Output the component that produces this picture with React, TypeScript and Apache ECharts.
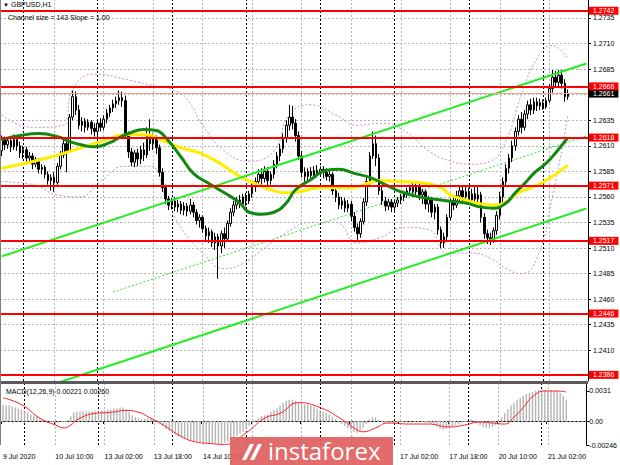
import React, { useEffect, useRef } from 'react';
import * as echarts from 'echarts';

// [open, close, low, high] — GBPUSD H1, 9 Jul 17:00 .. 21 Jul 08:00
const candles: number[][] = [
  [1.2605, 1.2616, 1.2600, 1.2620], [1.2616, 1.2611, 1.2606, 1.2619], [1.2611, 1.2615, 1.2607, 1.2618], [1.2615, 1.2609, 1.2604, 1.2617],
  [1.2609, 1.2616, 1.2606, 1.2621], [1.2616, 1.2610, 1.2605, 1.2619], [1.2610, 1.2603, 1.2598, 1.2614], [1.2603, 1.2606, 1.2597, 1.2610],
  [1.2606, 1.2598, 1.2594, 1.2609], [1.2598, 1.2600, 1.2593, 1.2604], [1.2600, 1.2592, 1.2587, 1.2603], [1.2592, 1.2596, 1.2589, 1.2599],
  [1.2596, 1.2587, 1.2583, 1.2598], [1.2587, 1.2589, 1.2582, 1.2592], [1.2589, 1.2582, 1.2578, 1.2591], [1.2582, 1.2576, 1.2572, 1.2585],
  [1.2576, 1.2579, 1.2566, 1.2582], [1.2579, 1.2574, 1.2565, 1.2584], [1.2574, 1.2590, 1.2572, 1.2593], [1.2590, 1.2601, 1.2587, 1.2605],
  [1.2601, 1.2612, 1.2598, 1.2616], [1.2612, 1.2605, 1.2584, 1.2614], [1.2605, 1.2638, 1.2603, 1.2641], [1.2638, 1.2658, 1.2635, 1.2664],
  [1.2658, 1.2645, 1.2640, 1.2663], [1.2645, 1.2630, 1.2626, 1.2650], [1.2630, 1.2634, 1.2624, 1.2638], [1.2634, 1.2628, 1.2623, 1.2637],
  [1.2628, 1.2633, 1.2625, 1.2636], [1.2633, 1.2627, 1.2621, 1.2635], [1.2627, 1.2624, 1.2619, 1.2632], [1.2624, 1.2632, 1.2620, 1.2635],
  [1.2632, 1.2628, 1.2624, 1.2637], [1.2628, 1.2636, 1.2625, 1.2640], [1.2636, 1.2642, 1.2632, 1.2646], [1.2642, 1.2647, 1.2638, 1.2650],
  [1.2647, 1.2651, 1.2643, 1.2655], [1.2651, 1.2654, 1.2647, 1.2658], [1.2654, 1.2657, 1.2650, 1.2664], [1.2657, 1.2654, 1.2648, 1.2663],
  [1.2654, 1.2620, 1.2617, 1.2659], [1.2620, 1.2604, 1.2598, 1.2624], [1.2604, 1.2594, 1.2590, 1.2608], [1.2594, 1.2603, 1.2589, 1.2606],
  [1.2603, 1.2597, 1.2590, 1.2607], [1.2597, 1.2606, 1.2592, 1.2610], [1.2606, 1.2601, 1.2595, 1.2613], [1.2601, 1.2619, 1.2598, 1.2628],
  [1.2619, 1.2612, 1.2605, 1.2636], [1.2612, 1.2617, 1.2606, 1.2622], [1.2617, 1.2608, 1.2602, 1.2620], [1.2608, 1.2584, 1.2580, 1.2611],
  [1.2584, 1.2569, 1.2565, 1.2588], [1.2569, 1.2558, 1.2553, 1.2572], [1.2558, 1.2552, 1.2547, 1.2561], [1.2552, 1.2556, 1.2548, 1.2559],
  [1.2556, 1.2550, 1.2546, 1.2560], [1.2550, 1.2553, 1.2545, 1.2557], [1.2553, 1.2547, 1.2543, 1.2556], [1.2547, 1.2551, 1.2542, 1.2555],
  [1.2551, 1.2546, 1.2541, 1.2554], [1.2546, 1.2552, 1.2543, 1.2558], [1.2552, 1.2545, 1.2540, 1.2555], [1.2545, 1.2537, 1.2533, 1.2548],
  [1.2537, 1.2540, 1.2530, 1.2543], [1.2540, 1.2529, 1.2525, 1.2542], [1.2529, 1.2522, 1.2517, 1.2532], [1.2522, 1.2526, 1.2515, 1.2530],
  [1.2526, 1.2515, 1.2511, 1.2528], [1.2515, 1.2521, 1.2508, 1.2525], [1.2521, 1.2512, 1.2480, 1.2524], [1.2512, 1.2524, 1.2505, 1.2527],
  [1.2524, 1.2519, 1.2510, 1.2530], [1.2519, 1.2534, 1.2516, 1.2537], [1.2534, 1.2545, 1.2531, 1.2549], [1.2545, 1.2552, 1.2541, 1.2556],
  [1.2552, 1.2557, 1.2548, 1.2560], [1.2557, 1.2553, 1.2549, 1.2562], [1.2553, 1.2560, 1.2550, 1.2563], [1.2560, 1.2556, 1.2551, 1.2564],
  [1.2556, 1.2563, 1.2553, 1.2566], [1.2563, 1.2570, 1.2559, 1.2574], [1.2570, 1.2575, 1.2565, 1.2579], [1.2575, 1.2582, 1.2571, 1.2587],
  [1.2582, 1.2578, 1.2572, 1.2588], [1.2578, 1.2585, 1.2574, 1.2590], [1.2585, 1.2576, 1.2570, 1.2589], [1.2576, 1.2582, 1.2572, 1.2585],
  [1.2582, 1.2592, 1.2578, 1.2596], [1.2592, 1.2600, 1.2588, 1.2604], [1.2600, 1.2607, 1.2595, 1.2612], [1.2607, 1.2618, 1.2603, 1.2622],
  [1.2618, 1.2630, 1.2613, 1.2635], [1.2630, 1.2638, 1.2625, 1.2650], [1.2638, 1.2632, 1.2626, 1.2649], [1.2632, 1.2620, 1.2614, 1.2636],
  [1.2620, 1.2600, 1.2596, 1.2624], [1.2600, 1.2584, 1.2579, 1.2605], [1.2584, 1.2580, 1.2575, 1.2589], [1.2580, 1.2585, 1.2576, 1.2588],
  [1.2585, 1.2581, 1.2577, 1.2589], [1.2581, 1.2586, 1.2578, 1.2590], [1.2586, 1.2583, 1.2579, 1.2591], [1.2583, 1.2587, 1.2580, 1.2590],
  [1.2587, 1.2584, 1.2578, 1.2590], [1.2584, 1.2580, 1.2576, 1.2588], [1.2580, 1.2582, 1.2575, 1.2586], [1.2582, 1.2566, 1.2562, 1.2584],
  [1.2566, 1.2560, 1.2555, 1.2569], [1.2560, 1.2552, 1.2548, 1.2564], [1.2552, 1.2556, 1.2548, 1.2560], [1.2556, 1.2549, 1.2545, 1.2559],
  [1.2549, 1.2553, 1.2545, 1.2557], [1.2553, 1.2541, 1.2536, 1.2556], [1.2541, 1.2530, 1.2526, 1.2545], [1.2530, 1.2524, 1.2518, 1.2534],
  [1.2524, 1.2536, 1.2520, 1.2539], [1.2536, 1.2555, 1.2533, 1.2559], [1.2555, 1.2575, 1.2551, 1.2579], [1.2575, 1.2600, 1.2572, 1.2604],
  [1.2600, 1.2612, 1.2597, 1.2624], [1.2612, 1.2598, 1.2590, 1.2620], [1.2598, 1.2566, 1.2562, 1.2602], [1.2566, 1.2556, 1.2552, 1.2570],
  [1.2556, 1.2551, 1.2546, 1.2560], [1.2551, 1.2555, 1.2547, 1.2558], [1.2555, 1.2550, 1.2545, 1.2558], [1.2550, 1.2554, 1.2546, 1.2557],
  [1.2554, 1.2557, 1.2550, 1.2560], [1.2557, 1.2560, 1.2553, 1.2563], [1.2560, 1.2563, 1.2556, 1.2566], [1.2563, 1.2566, 1.2559, 1.2569],
  [1.2566, 1.2569, 1.2562, 1.2572], [1.2569, 1.2565, 1.2560, 1.2574], [1.2565, 1.2570, 1.2562, 1.2573], [1.2570, 1.2562, 1.2557, 1.2573],
  [1.2562, 1.2565, 1.2553, 1.2568], [1.2565, 1.2553, 1.2548, 1.2567], [1.2553, 1.2558, 1.2545, 1.2561], [1.2558, 1.2545, 1.2540, 1.2560],
  [1.2545, 1.2550, 1.2538, 1.2553], [1.2550, 1.2528, 1.2523, 1.2553], [1.2528, 1.2515, 1.2510, 1.2531], [1.2515, 1.2521, 1.2510, 1.2525],
  [1.2521, 1.2540, 1.2518, 1.2543], [1.2540, 1.2556, 1.2537, 1.2559], [1.2556, 1.2552, 1.2547, 1.2561], [1.2552, 1.2561, 1.2549, 1.2566],
  [1.2561, 1.2566, 1.2556, 1.2570], [1.2566, 1.2560, 1.2555, 1.2571], [1.2560, 1.2565, 1.2557, 1.2570], [1.2565, 1.2557, 1.2552, 1.2569],
  [1.2557, 1.2563, 1.2553, 1.2568], [1.2563, 1.2558, 1.2552, 1.2571], [1.2558, 1.2562, 1.2553, 1.2571], [1.2562, 1.2540, 1.2535, 1.2565],
  [1.2540, 1.2524, 1.2519, 1.2544], [1.2524, 1.2520, 1.2514, 1.2528], [1.2520, 1.2518, 1.2513, 1.2525], [1.2518, 1.2527, 1.2515, 1.2530],
  [1.2527, 1.2542, 1.2523, 1.2546], [1.2542, 1.2560, 1.2538, 1.2565], [1.2560, 1.2575, 1.2555, 1.2579], [1.2575, 1.2588, 1.2570, 1.2592],
  [1.2588, 1.2598, 1.2583, 1.2602], [1.2598, 1.2610, 1.2594, 1.2615], [1.2610, 1.2624, 1.2605, 1.2628], [1.2624, 1.2636, 1.2620, 1.2640],
  [1.2636, 1.2628, 1.2622, 1.2643], [1.2628, 1.2641, 1.2625, 1.2645], [1.2641, 1.2650, 1.2636, 1.2654], [1.2650, 1.2645, 1.2640, 1.2656],
  [1.2645, 1.2653, 1.2641, 1.2657], [1.2653, 1.2649, 1.2644, 1.2657], [1.2649, 1.2652, 1.2645, 1.2656], [1.2652, 1.2648, 1.2645, 1.2655],
  [1.2648, 1.2654, 1.2646, 1.2657], [1.2654, 1.2666, 1.2652, 1.2670], [1.2666, 1.2677, 1.2662, 1.2684], [1.2677, 1.2672, 1.2667, 1.2683],
  [1.2672, 1.2679, 1.2668, 1.2684], [1.2679, 1.2671, 1.2666, 1.2684], [1.2671, 1.2658, 1.2653, 1.2675], [1.2658, 1.2661, 1.2655, 1.2665],
];

// moving averages, read as [bar, price]
const maFast: number[][] = [
  [0, 1.2616], [6, 1.2620], [12, 1.2622], [19, 1.2618], [22, 1.2614], [27, 1.2610], [30, 1.2609], [35, 1.2613], [38, 1.2618],
  [41, 1.2622], [46, 1.2626], [50, 1.2625], [53, 1.2618], [58, 1.2599], [62, 1.2583], [67, 1.2573], [72, 1.2564], [77, 1.2554],
  [80, 1.2545], [84, 1.2543], [88, 1.2545], [92, 1.2554], [95, 1.2567], [100, 1.2577], [105, 1.2586], [109, 1.2587], [114, 1.2583],
  [119, 1.2579], [124, 1.2572], [129, 1.2565], [135, 1.2560], [142, 1.2557], [150, 1.2554], [155, 1.2550], [159, 1.2549],
  [163, 1.2554], [166, 1.2564], [169, 1.2573], [172, 1.2583], [176, 1.2593], [179, 1.2603], [183, 1.2618],
];
const maSlow: number[][] = [
  [0, 1.2588], [16, 1.2599], [32, 1.2614], [41, 1.2621], [46, 1.2621], [53, 1.2614], [58, 1.2608], [64, 1.2603], [71, 1.2592],
  [77, 1.2580], [82, 1.2573], [87, 1.2567], [92, 1.2564], [96, 1.2565], [103, 1.2569], [113, 1.2569], [119, 1.2574], [122, 1.2576],
  [129, 1.2575], [135, 1.2574], [142, 1.2569], [145, 1.2562], [150, 1.2557], [155, 1.2553], [159, 1.2552], [163, 1.2555],
  [167, 1.2564], [172, 1.2570], [177, 1.2578], [183, 1.2591],
];
const bandUpper: number[][] = [
  [0, 1.2640], [10, 1.2628], [20, 1.2630], [23, 1.2665], [30, 1.2680], [40, 1.2675], [50, 1.2668], [55, 1.2665], [60, 1.2655],
  [65, 1.2630], [72, 1.2605], [80, 1.2595], [88, 1.2605], [93, 1.2640], [100, 1.2650], [108, 1.2640], [115, 1.2630], [122, 1.2632],
  [130, 1.2625], [138, 1.2605], [145, 1.2595], [152, 1.2592], [158, 1.2595], [163, 1.2615], [168, 1.2660], [173, 1.2695],
  [178, 1.2708], [183, 1.2695],
];
const bandLower: number[][] = [
  [0, 1.2575], [10, 1.2572], [18, 1.2562], [25, 1.2560], [32, 1.2575], [40, 1.2590], [48, 1.2590], [53, 1.2560], [58, 1.2530],
  [65, 1.2505], [72, 1.2490], [78, 1.2495], [85, 1.2510], [92, 1.2525], [100, 1.2535], [108, 1.2535], [115, 1.2515], [122, 1.2520],
  [130, 1.2530], [138, 1.2528], [144, 1.2505], [152, 1.2505], [158, 1.2500], [163, 1.2490], [168, 1.2485], [173, 1.2500],
  [178, 1.2560], [183, 1.2640],
];

// regression channel, [bar, price] end points
const channelUpper: number[][] = [[0, 1.25018], [189, 1.26904]];
const channelLower: number[][] = [[0, 1.23602], [189, 1.25487]];
const channelMid: number[][] = [[36, 1.24669], [189, 1.26196]];

const macdMain: number[] = [
  0.0017, 0.0016, 0.0016, 0.0015, 0.0014, 0.0013, 0.0012, 0.0010, 0.0009, 0.0007,
  0.0006, 0.0005, 0.0003, 0.0002, 0.0001, 0.0000, -0.0001, -0.0002, -0.0002, -0.0001,
  -0.0001, 0.0001, 0.0005, 0.0009, 0.0010, 0.0010, 0.0010, 0.0010, 0.0010, 0.0010,
  0.0010, 0.0010, 0.0011, 0.0011, 0.0012, 0.0012, 0.0013, 0.0013, 0.0014, 0.0014,
  0.0012, 0.0009, 0.0006, 0.0004, 0.0003, 0.0002, 0.0002, 0.0003, 0.0003, 0.0002,
  0.0001, -0.0002, -0.0005, -0.0008, -0.0010, -0.0012, -0.0014, -0.0016, -0.0017, -0.0018,
  -0.0019, -0.0020, -0.0021, -0.0021, -0.0022, -0.0022, -0.0023, -0.0023, -0.0023, -0.0023,
  -0.0024, -0.0023, -0.0022, -0.0021, -0.0019, -0.0017, -0.0015, -0.0013, -0.0011, -0.0008,
  -0.0005, -0.0002, 0.0001, 0.0003, 0.0005, 0.0006, 0.0007, 0.0009, 0.0011, 0.0013,
  0.0016, 0.0019, 0.0021, 0.0022, 0.0022, 0.0021, 0.0019, 0.0018, 0.0017, 0.0017,
  0.0016, 0.0015, 0.0013, 0.0011, 0.0009, 0.0008, 0.0007, 0.0004, 0.0002, -0.0001,
  -0.0003, -0.0005, -0.0007, -0.0009, -0.0011, -0.0012, -0.0010, -0.0007, -0.0003, 0.0002,
  0.0004, 0.0004, 0.0001, -0.0001, -0.0002, -0.0002, -0.0002, -0.0002, -0.0002, -0.0001,
  -0.0001, -0.0001, 0.0000, 0.0000, -0.0001, -0.0001, -0.0001, -0.0002, -0.0002, -0.0003,
  -0.0004, -0.0006, -0.0008, -0.0009, -0.0008, -0.0006, -0.0005, -0.0004, -0.0003, -0.0002,
  -0.0001, 0.0001, 0.0002, 0.0001, -0.0002, -0.0004, -0.0006, -0.0007, -0.0007, -0.0006,
  -0.0004, 0.0000, 0.0004, 0.0008, 0.0012, 0.0016, 0.0019, 0.0022, 0.0024, 0.0026,
  0.0028, 0.0029, 0.0030, 0.0031, 0.0032, 0.0032, 0.0032, 0.0032, 0.0032, 0.0031,
  0.0031, 0.0029, 0.0026, 0.0022,
];
const macdSignal: number[][] = [
  [0, 0.0024], [6, 0.0017], [12, 0.0003], [17, -0.0004], [20, -0.0007], [22, -0.0004], [25, 0.0003], [30, 0.0008],
  [35, 0.0009], [40, 0.0011], [43, 0.0010], [48, 0.0003], [53, -0.0006], [58, -0.0016], [62, -0.0021], [67, -0.0023],
  [72, -0.0024], [79, -0.0012], [85, 0.0003], [90, 0.0008], [96, 0.0019], [103, 0.0014], [109, 0.0004], [114, -0.0007],
  [117, -0.0011], [121, -0.0007], [125, -0.0002], [132, -0.0003], [138, -0.0003], [145, -0.0006], [150, -0.0004],
  [155, -0.0001], [159, -0.0002], [163, -0.0003], [166, 0.0004], [169, 0.0014], [172, 0.0025], [176, 0.0031],
  [180, 0.0031], [183, 0.0030],
];

const priceTicks = [1.2410, 1.2435, 1.2460, 1.2485, 1.2510, 1.2535, 1.2560, 1.2585, 1.2610, 1.2635, 1.2660, 1.2685, 1.2710, 1.2735];
const hiddenPriceLabels = [1.2660];
const levels = [1.2742, 1.2668, 1.2618, 1.2571, 1.2517, 1.2446, 1.2386];
const bidPrice = 1.2661;
const macdTicks = [0.0031, 0, -0.00246];

const xTickBars = [0, 17, 33, 49, 65, 81, 97, 113, 129, 145, 161, 177];
const xTickLabels = ['9 Jul 2020', '10 Jul 10:00', '13 Jul 02:00', '13 Jul 18:00', '14 Jul 10:00', '', '', '',
  '17 Jul 02:00', '17 Jul 18:00', '20 Jul 10:00', '21 Jul 02:00'];
const daySeparatorBars = [7, 31, 55, 79, 103, 127, 151, 175];
const gridBars = [17, 33, 49, 65, 81, 97, 113, 129, 145, 161, 177];

const SLOTS = 190;
const FONT = '"Liberation Sans", Arial, sans-serif';

export default function App() {
  const ref = useRef<HTMLDivElement>(null);
  useEffect(() => {
    if (!ref.current) return;
    const chart = echarts.init(ref.current, undefined, { renderer: 'svg' });
    const cats = Array.from({ length: SLOTS }, (_, i) => String(i));
    const tickSet = new Set(xTickBars);
    const gridLineStyle = { color: '#b4b4b4', type: [2, 2] as any, width: 1 };
    const sepStyle = { color: '#000000', type: [2, 2] as any, width: 1 };
    const redLabel = (v: number, bg: string) => ({
      show: true, position: 'end', distance: 1, formatter: v.toFixed(4), color: '#ffffff',
      backgroundColor: bg, padding: [1, 4, 0, 4], fontSize: 7, fontFamily: FONT,
    });

    const option: any = {
      animation: false,
      backgroundColor: '#ffffff',
      textStyle: { fontFamily: FONT },
      grid: [
        { left: 0, top: 0, width: 588, height: 381 },
        { left: 0, top: 384, width: 588, height: 61 },
      ],
      xAxis: [
        {
          type: 'category', gridIndex: 0, data: cats, boundaryGap: true,
          axisLine: { show: false }, axisTick: { show: false }, axisLabel: { show: false }, splitLine: { show: false },
        },
        {
          type: 'category', gridIndex: 1, data: cats, boundaryGap: true,
          axisLine: { show: true, lineStyle: { color: '#000', width: 1 } },
          axisTick: { show: true, length: 3, interval: (i: number) => tickSet.has(i), lineStyle: { color: '#000' } },
          axisLabel: {
            show: true, interval: (i: number) => tickSet.has(i) && xTickLabels[xTickBars.indexOf(i)] !== '',
            align: 'left', margin: 8, fontSize: 7, color: '#000', fontFamily: FONT,
            formatter: (v: string) => { const k = xTickBars.indexOf(Number(v)); return k >= 0 ? xTickLabels[k] : ''; },
          },
          splitLine: { show: false },
        },
      ],
      yAxis: [
        {
          type: 'value', gridIndex: 0, position: 'right', min: 1.2380, max: 1.27525, scale: true,
          axisLine: { show: true, lineStyle: { color: '#000', width: 1 } },
          axisTick: { show: true, length: 3, customValues: priceTicks, lineStyle: { color: '#000' } },
          axisLabel: {
            show: true, customValues: priceTicks.filter((v) => !hiddenPriceLabels.includes(v)),
            formatter: (v: number) => v.toFixed(4), fontSize: 7, color: '#000', margin: 5, fontFamily: FONT,
          },
          splitLine: { show: false },
        },
        {
          type: 'value', gridIndex: 1, position: 'right', min: -0.00246, max: 0.00382,
          axisLine: { show: true, lineStyle: { color: '#000', width: 1 } },
          axisTick: { show: true, length: 3, customValues: macdTicks, lineStyle: { color: '#000' } },
          axisLabel: {
            show: true, customValues: macdTicks, fontSize: 7, color: '#000', margin: 3, fontFamily: FONT,
            formatter: (v: number) => (v === 0 ? '0.00' : v < 0 ? v.toFixed(5) : v.toFixed(4)),
          },
          splitLine: { show: false },
        },
      ],
      series: [
        {
          type: 'line', xAxisIndex: 0, yAxisIndex: 0, data: [], silent: true, z: 1,
          markLine: {
            silent: true, symbol: 'none', z: 1, precision: 6, label: { show: false }, lineStyle: gridLineStyle,
            data: [
              ...priceTicks.map((v) => ({ yAxis: v })),
              ...gridBars.map((b) => ({ xAxis: b - 0.5 })),
            ],
          },
        },
        {
          type: 'line', xAxisIndex: 1, yAxisIndex: 1, data: [], silent: true, z: 1,
          markLine: {
            silent: true, symbol: 'none', z: 1, precision: 6, label: { show: false }, lineStyle: gridLineStyle,
            data: [{ yAxis: 0 }, ...gridBars.map((b) => ({ xAxis: b - 0.5 }))],
          },
        },
        {
          type: 'line', xAxisIndex: 0, yAxisIndex: 0, data: [], silent: true, z: 2,
          markLine: {
            silent: true, symbol: 'none', z: 2, precision: 6, label: { show: false }, lineStyle: sepStyle,
            data: daySeparatorBars.map((b) => ({ xAxis: b - 0.5 })),
          },
        },
        {
          type: 'line', xAxisIndex: 1, yAxisIndex: 1, data: [], silent: true, z: 2,
          markLine: {
            silent: true, symbol: 'none', z: 2, precision: 6, label: { show: false }, lineStyle: sepStyle,
            data: daySeparatorBars.map((b) => ({ xAxis: b - 0.5 })),
          },
        },
        {
          name: 'bandUpper', type: 'line', xAxisIndex: 0, yAxisIndex: 0, data: bandUpper, smooth: true, symbol: 'none',
          lineStyle: { color: '#c28ee0', width: 1, type: [2, 2] }, z: 2, silent: true,
        },
        {
          name: 'bandLower', type: 'line', xAxisIndex: 0, yAxisIndex: 0, data: bandLower, smooth: true, symbol: 'none',
          lineStyle: { color: '#c28ee0', width: 1, type: [2, 2] }, z: 2, silent: true,
        },
        {
          name: 'channelMid', type: 'line', xAxisIndex: 0, yAxisIndex: 0, data: channelMid, symbol: 'none',
          lineStyle: { color: '#33dd33', width: 1, type: [2, 2] }, z: 2, silent: true,
        },
        {
          name: 'GBPUSD', type: 'candlestick', xAxisIndex: 0, yAxisIndex: 0, data: candles, barWidth: 2, z: 3,
          itemStyle: { color: '#ffffff', color0: '#000000', borderColor: '#000000', borderColor0: '#000000', borderWidth: 1 },
        },
        {
          name: 'maSlow', type: 'line', xAxisIndex: 0, yAxisIndex: 0, data: maSlow, smooth: true, symbol: 'none',
          lineStyle: { color: '#ffee00', width: 3 }, z: 4, silent: true,
        },
        {
          name: 'maFast', type: 'line', xAxisIndex: 0, yAxisIndex: 0, data: maFast, smooth: true, symbol: 'none',
          lineStyle: { color: '#118811', width: 3 }, z: 4, silent: true,
        },
        {
          name: 'channelUpper', type: 'line', xAxisIndex: 0, yAxisIndex: 0, data: channelUpper, symbol: 'none',
          lineStyle: { color: '#22ee22', width: 2 }, z: 5, silent: true,
        },
        {
          name: 'channelLower', type: 'line', xAxisIndex: 0, yAxisIndex: 0, data: channelLower, symbol: 'none',
          lineStyle: { color: '#22ee22', width: 2 }, z: 5, silent: true, clip: true,
        },
        {
          name: 'levels', type: 'line', xAxisIndex: 0, yAxisIndex: 0, data: [], silent: true, z: 6,
          markLine: {
            silent: true, symbol: 'none', z: 6, precision: 6,
            data: [
              {
                yAxis: bidPrice,
                lineStyle: { color: '#f7a08a', width: 1, type: 'solid' },
                label: redLabel(bidPrice, '#000000'),
              },
              ...levels.map((v) => ({
                yAxis: v,
                lineStyle: { color: '#ff0000', width: 2, type: 'solid' },
                label: redLabel(v, '#ff0000'),
              })),
            ],
          },
        },
        {
          name: 'MACD', type: 'bar', xAxisIndex: 1, yAxisIndex: 1, data: macdMain, barWidth: 1.4,
          itemStyle: { color: '#b4b4b4' }, z: 3, silent: true,
        },
        {
          name: 'Signal', type: 'line', xAxisIndex: 1, yAxisIndex: 1, data: macdSignal, smooth: true, symbol: 'none',
          lineStyle: { color: '#ff2020', width: 1 }, z: 4, silent: true,
        },
      ],
      graphic: [
        { type: 'rect', shape: { x: 0, y: 381, width: 588, height: 3 }, style: { fill: '#5a5a5a' }, z: 10 },
        { type: 'line', shape: { x1: 0.5, y1: 0, x2: 0.5, y2: 445 }, style: { stroke: '#808080', lineWidth: 1 }, z: 10 },
        { type: 'text', left: 3, top: 2, style: { text: '▼', fontSize: 6, fill: '#000', fontFamily: FONT }, z: 10 },
        { type: 'text', left: 11, top: 1, style: { text: 'GBPUSD,H1', fontSize: 7, fill: '#000', fontFamily: FONT }, z: 10 },
        { type: 'text', left: 8, top: 14, style: { text: 'Channel size = 143 Slope = 1.00', fontSize: 7, fill: '#000', fontFamily: FONT }, z: 10 },
        { type: 'text', left: 6, top: 388, style: { text: 'MACD(12,26,9) 0.00221 0.00260', fontSize: 7, fill: '#000', fontFamily: FONT }, z: 10 },
        { type: 'rect', shape: { x: 230, y: 437, width: 163, height: 28 }, style: { fill: '#e06060', opacity: 0.92 }, z: 20 },
        {
          type: 'text', x: 268, y: 450,
          style: { text: 'instaforex', fontSize: 24, lineHeight: 22, fill: '#ffffff', fontFamily: '"Open Sans", sans-serif', verticalAlign: 'middle' },
          z: 21,
        },
        { type: 'polygon', shape: { points: [[242, 460], [250, 444], [254, 444], [246, 460]] }, style: { fill: '#ffffff' }, z: 21 },
        { type: 'polygon', shape: { points: [[250, 460], [258, 444], [262, 444], [254, 460]] }, style: { fill: '#ffffff' }, z: 21 },
      ],
    };
    chart.setOption(option);
    return () => chart.dispose();
  }, []);
  return <div ref={ref} style={{ position: 'fixed', left: 0, top: 0, width: 620, height: 465, background: '#fff' }} />;
}
